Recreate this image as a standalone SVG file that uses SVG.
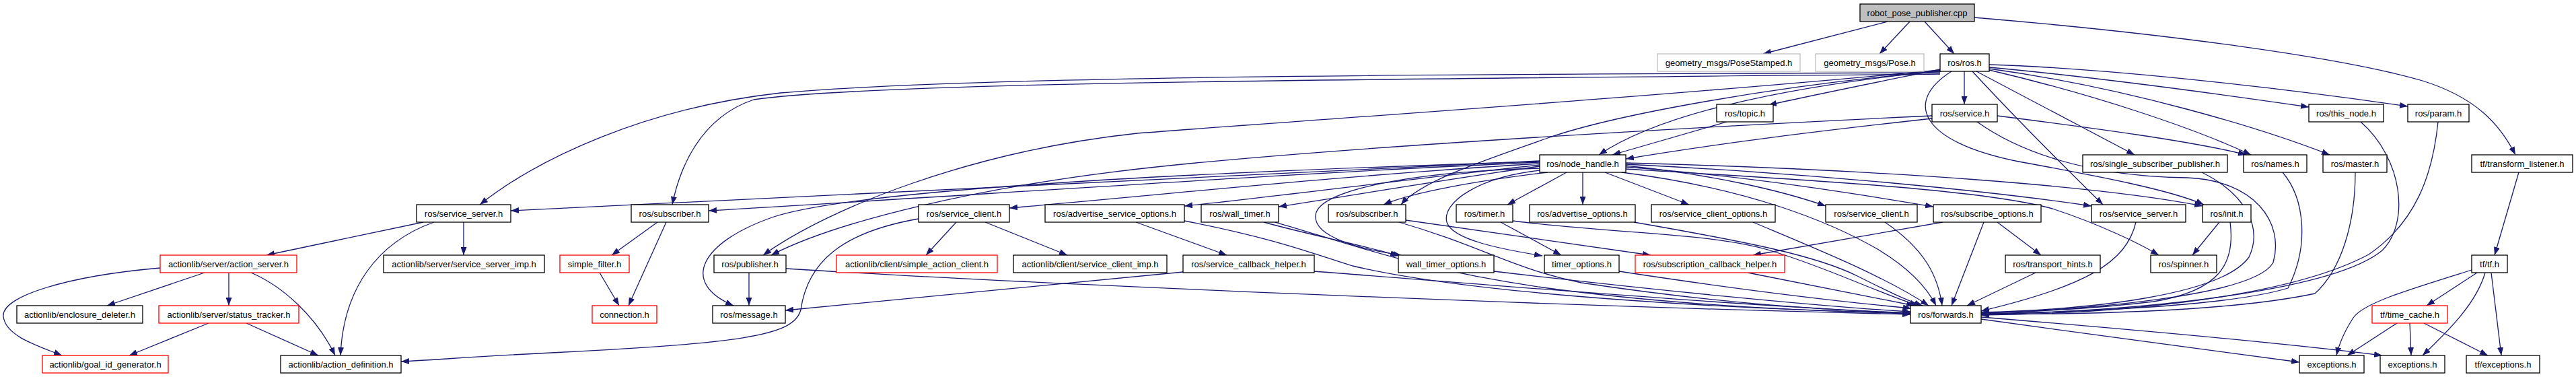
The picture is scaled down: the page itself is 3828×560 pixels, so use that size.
<svg xmlns="http://www.w3.org/2000/svg" width="3828" height="560" viewBox="0 0 3828 560">
<style>
.n rect{fill:#fff;stroke:#000;stroke-width:1.3}
.r rect{stroke:#f00}
.g rect{stroke:#bfbfbf}
.root rect{fill:#bfbfbf}
text{font-family:"Liberation Sans",Arial,sans-serif;font-size:13px;text-anchor:middle;fill:#000}
#edges path{fill:none;stroke:#191970;stroke-width:1.3;marker-end:url(#a)}
</style>
<defs>
<marker id="a" viewBox="0 0 12 9" refX="12" refY="4.5" markerWidth="12" markerHeight="9" markerUnits="userSpaceOnUse" orient="auto"><path d="M0,0 L12,4.5 L0,9 z" fill="#191970"/></marker>
</defs>
<rect width="3828" height="560" fill="#fff"/>
<g id="edges">
<path d="M2805,32 L2620,80"/>
<path d="M2838,32 L2793,80"/>
<path d="M2860,32 L2904,80"/>
<path d="M2934,26 C3220,50 3480,85 3600,120 C3680,145 3715,185 3738,230"/>
<path d="M2883,103 C2790,122 2700,140 2628,156"/>
<path d="M2919,106 L2919,155"/>
<path d="M2883,105 C2690,125 2480,160 2376,230"/>
<path d="M2566,181 L2396,230"/>
<path d="M2871,176 C2700,195 2560,212 2416,236"/>
<path d="M2937,106 L3172,230"/>
<path d="M2956,100 C3120,115 3300,140 3431,159"/>
<path d="M2956,96 C3150,102 3420,135 3578,158"/>
<path d="M2956,104 C3110,140 3260,190 3345,230"/>
<path d="M2956,102 C3160,130 3360,190 3462,230"/>
<path d="M2968,172 C3110,190 3260,210 3338,230"/>
<path d="M2883,108 C2200,110 1450,112 1160,138 C960,160 800,235 713,304"/>
<path d="M2883,110 C2000,118 1300,122 1120,148 C1040,175 1010,250 999,304"/>
<path d="M2883,104 C2450,145 1950,178 1690,198 C1440,225 1230,310 1134,379"/>
<path d="M2871,172 C2450,192 1950,222 1700,250 C1450,278 1240,330 1146,379"/>
<path d="M2288,239 C1900,255 1350,285 759,313"/>
<path d="M2288,241 C1900,258 1450,290 1053,313"/>
<path d="M2288,240 C1800,255 1280,280 1150,322 C1040,360 1010,420 1090,454"/>
<path d="M2884,106 C2650,125 2400,170 2300,205 C2200,240 2110,270 2082,304"/>
<path d="M2300,256 C2200,268 2100,285 2056,304"/>
<path d="M2288,243 C2000,260 1700,292 1500,309"/>
<path d="M2288,245 C2100,265 1900,292 1760,306"/>
<path d="M2288,247 C2150,266 2000,292 1900,307"/>
<path d="M2288,250 C2100,255 1958,282 1955,320 C1952,352 2020,370 2082,379"/>
<path d="M2290,253 C2200,262 2142,300 2150,330 C2158,356 2230,370 2292,380"/>
<path d="M2328,256 L2240,304"/>
<path d="M2352,256 L2352,304"/>
<path d="M2385,256 L2510,304"/>
<path d="M2416,246 C2550,260 2650,284 2713,306"/>
<path d="M2416,248 C2600,262 2760,288 2873,307"/>
<path d="M2416,244 C2700,258 2960,284 3108,306"/>
<path d="M2931,106 C2990,170 3070,250 3125,304"/>
<path d="M2900,106 C2830,150 2850,210 3000,240 C3120,262 3225,282 3275,304"/>
<path d="M2416,242 C2800,252 3120,276 3273,306"/>
<path d="M2416,251 C2700,268 2950,282 3050,310 C3120,333 3180,362 3208,379"/>
<path d="M2410,256 C2600,280 2720,330 2790,370 C2840,400 2865,430 2877,454"/>
<path d="M3298,330 L3258,379"/>
<path d="M3314,330 C3322,390 3300,432 3200,448 C3100,460 3010,463 2944,465"/>
<path d="M3392,256 C3425,295 3432,365 3400,428 C3300,458 3050,464 2944,466"/>
<path d="M3500,256 C3500,330 3480,400 3440,436 C3300,466 3050,467 2944,467"/>
<path d="M3508,181 C3570,235 3582,330 3540,372 C3470,430 3200,462 2944,467"/>
<path d="M3623,181 C3615,260 3590,330 3520,378 C3400,442 3150,466 2944,468"/>
<path d="M3272,256 C3340,290 3362,340 3342,382 C3300,440 3100,460 2944,464"/>
<path d="M2938,181 C3000,225 3100,262 3250,264 C3350,268 3395,330 3378,390 C3350,440 3100,460 2944,465"/>
<path d="M2944,474 C3100,496 3300,522 3417,538"/>
<path d="M2944,471 C3150,488 3400,510 3540,528"/>
<path d="M3673,401 C3580,430 3512,450 3497,472 C3482,495 3475,515 3472,528"/>
<path d="M3681,405 L3606,454"/>
<path d="M3693,405 C3680,450 3640,490 3600,528"/>
<path d="M3702,405 L3717,528"/>
<path d="M3562,480 L3488,528"/>
<path d="M3581,480 L3583,528"/>
<path d="M3602,480 L3697,528"/>
<path d="M3743,256 L3707,379"/>
<path d="M689,330 L689,379"/>
<path d="M629,330 L396,379"/>
<path d="M645,330 C560,360 510,430 506,528"/>
<path d="M977,330 L909,379"/>
<path d="M990,330 L934,454"/>
<path d="M891,405 L920,454"/>
<path d="M1113,405 L1113,454"/>
<path d="M1168,399 C1500,420 2300,455 2839,467"/>
<path d="M1421,330 L1376,379"/>
<path d="M1464,330 L1586,379"/>
<path d="M1365,325 C1250,345 1200,390 1190,460 C1180,500 1100,510 800,525 C700,530 640,535 596,537"/>
<path d="M1688,330 L1823,379"/>
<path d="M1760,328 C1900,355 1960,380 2010,395 C2200,440 2600,460 2839,465"/>
<path d="M1878,330 C1950,350 2030,365 2078,380"/>
<path d="M1895,330 C2000,360 2100,400 2300,428 C2500,455 2700,462 2839,466"/>
<path d="M1758,404 C1500,430 1300,450 1167,461"/>
<path d="M1953,403 C2300,430 2600,455 2839,465"/>
<path d="M2089,327 L2453,379"/>
<path d="M2079,330 C2200,365 2250,400 2350,420 C2550,450 2700,460 2839,465"/>
<path d="M2230,330 L2320,379"/>
<path d="M2248,328 C2400,348 2550,345 2640,375 C2720,400 2780,430 2850,454"/>
<path d="M2428,330 C2600,360 2700,380 2760,410 C2800,430 2830,445 2857,454"/>
<path d="M2220,403 C2450,430 2700,455 2839,463"/>
<path d="M2406,403 C2550,425 2700,445 2840,458"/>
<path d="M2597,405 L2845,454"/>
<path d="M2605,330 C2700,370 2800,410 2866,454"/>
<path d="M2801,330 C2860,370 2880,410 2886,454"/>
<path d="M2948,330 L2900,454"/>
<path d="M2887,330 L2605,379"/>
<path d="M2968,330 L3033,379"/>
<path d="M3025,405 L2923,454"/>
<path d="M3174,330 C3160,390 3100,425 2944,462"/>
<path d="M238,398 C100,410 2,440 5,470 C8,500 60,515 92,528"/>
<path d="M304,405 L159,454"/>
<path d="M340,405 L340,454"/>
<path d="M373,405 C420,425 470,470 498,528"/>
<path d="M310,480 L192,528"/>
<path d="M366,480 L473,528"/>
</g>
<g id="root" class="n root"><rect x="2764" y="6" width="170" height="26"/><text x="2849" y="24">robot_pose_publisher.cpp</text></g>
<g id="posestamped" class="n g"><rect x="2463" y="80" width="212" height="26"/><text x="2569" y="98">geometry_msgs/PoseStamped.h</text></g>
<g id="pose" class="n g"><rect x="2698" y="80" width="161" height="26"/><text x="2778.5" y="98">geometry_msgs/Pose.h</text></g>
<g id="ros_h" class="n"><rect x="2883" y="80" width="73" height="26"/><text x="2919.5" y="98">ros/ros.h</text></g>
<g id="topic" class="n"><rect x="2551" y="155" width="84" height="26"/><text x="2593" y="173">ros/topic.h</text></g>
<g id="service" class="n"><rect x="2871" y="155" width="97" height="26"/><text x="2919.5" y="173">ros/service.h</text></g>
<g id="this_node" class="n"><rect x="3431" y="155" width="111" height="26"/><text x="3486.5" y="173">ros/this_node.h</text></g>
<g id="param" class="n"><rect x="3578" y="155" width="91" height="26"/><text x="3623.5" y="173">ros/param.h</text></g>
<g id="node_handle" class="n"><rect x="2288" y="230" width="128" height="26"/><text x="2352" y="248">ros/node_handle.h</text></g>
<g id="ssp" class="n"><rect x="3095" y="230" width="215" height="26"/><text x="3202.5" y="248">ros/single_subscriber_publisher.h</text></g>
<g id="names" class="n"><rect x="3334" y="230" width="94" height="26"/><text x="3381" y="248">ros/names.h</text></g>
<g id="master" class="n"><rect x="3452" y="230" width="95" height="26"/><text x="3499.5" y="248">ros/master.h</text></g>
<g id="transform_listener" class="n"><rect x="3673" y="230" width="150" height="26"/><text x="3748" y="248">tf/transform_listener.h</text></g>
<g id="service_server1" class="n"><rect x="619" y="304" width="140" height="26"/><text x="689" y="322">ros/service_server.h</text></g>
<g id="subscriber1" class="n"><rect x="938" y="304" width="115" height="26"/><text x="995.5" y="322">ros/subscriber.h</text></g>
<g id="service_client1" class="n"><rect x="1365" y="304" width="135" height="26"/><text x="1432.5" y="322">ros/service_client.h</text></g>
<g id="adv_service_options" class="n"><rect x="1553" y="304" width="207" height="26"/><text x="1656.5" y="322">ros/advertise_service_options.h</text></g>
<g id="wall_timer" class="n"><rect x="1785" y="304" width="115" height="26"/><text x="1842.5" y="322">ros/wall_timer.h</text></g>
<g id="subscriber2" class="n"><rect x="1974" y="304" width="115" height="26"/><text x="2031.5" y="322">ros/subscriber.h</text></g>
<g id="timer" class="n"><rect x="2164" y="304" width="84" height="26"/><text x="2206" y="322">ros/timer.h</text></g>
<g id="advertise_options" class="n"><rect x="2273" y="304" width="157" height="26"/><text x="2351.5" y="322">ros/advertise_options.h</text></g>
<g id="service_client_options" class="n"><rect x="2454" y="304" width="184" height="26"/><text x="2546" y="322">ros/service_client_options.h</text></g>
<g id="service_client2" class="n"><rect x="2713" y="304" width="136" height="26"/><text x="2781" y="322">ros/service_client.h</text></g>
<g id="subscribe_options" class="n"><rect x="2873" y="304" width="160" height="26"/><text x="2953" y="322">ros/subscribe_options.h</text></g>
<g id="service_server2" class="n"><rect x="3108" y="304" width="140" height="26"/><text x="3178" y="322">ros/service_server.h</text></g>
<g id="init" class="n"><rect x="3273" y="304" width="72" height="26"/><text x="3309" y="322">ros/init.h</text></g>
<g id="action_server" class="n r"><rect x="238" y="379" width="203" height="26"/><text x="339.5" y="397">actionlib/server/action_server.h</text></g>
<g id="service_server_imp" class="n"><rect x="570" y="379" width="239" height="26"/><text x="689.5" y="397">actionlib/server/service_server_imp.h</text></g>
<g id="simple_filter" class="n r"><rect x="832" y="379" width="103" height="26"/><text x="883.5" y="397">simple_filter.h</text></g>
<g id="publisher" class="n"><rect x="1061" y="379" width="107" height="26"/><text x="1114.5" y="397">ros/publisher.h</text></g>
<g id="simple_action_client" class="n r"><rect x="1243" y="379" width="239" height="26"/><text x="1362.5" y="397">actionlib/client/simple_action_client.h</text></g>
<g id="service_client_imp" class="n"><rect x="1506" y="379" width="228" height="26"/><text x="1620" y="397">actionlib/client/service_client_imp.h</text></g>
<g id="service_callback_helper" class="n"><rect x="1758" y="379" width="195" height="26"/><text x="1855.5" y="397">ros/service_callback_helper.h</text></g>
<g id="wall_timer_options" class="n"><rect x="2078" y="379" width="142" height="26"/><text x="2149" y="397">wall_timer_options.h</text></g>
<g id="timer_options" class="n"><rect x="2295" y="379" width="111" height="26"/><text x="2350.5" y="397">timer_options.h</text></g>
<g id="subscription_callback_helper" class="n r"><rect x="2430" y="379" width="222" height="26"/><text x="2541" y="397">ros/subscription_callback_helper.h</text></g>
<g id="transport_hints" class="n"><rect x="2980" y="379" width="141" height="26"/><text x="3050.5" y="397">ros/transport_hints.h</text></g>
<g id="spinner" class="n"><rect x="3196" y="379" width="98" height="26"/><text x="3245" y="397">ros/spinner.h</text></g>
<g id="tf_h" class="n"><rect x="3673" y="379" width="53" height="26"/><text x="3699.5" y="397">tf/tf.h</text></g>
<g id="enclosure_deleter" class="n"><rect x="25" y="454" width="187" height="26"/><text x="118.5" y="472">actionlib/enclosure_deleter.h</text></g>
<g id="status_tracker" class="n r"><rect x="236" y="454" width="208" height="26"/><text x="340" y="472">actionlib/server/status_tracker.h</text></g>
<g id="connection" class="n r"><rect x="880" y="454" width="96" height="26"/><text x="928" y="472">connection.h</text></g>
<g id="message" class="n"><rect x="1059" y="454" width="108" height="26"/><text x="1113" y="472">ros/message.h</text></g>
<g id="forwards" class="n"><rect x="2839" y="454" width="105" height="26"/><text x="2891.5" y="472">ros/forwards.h</text></g>
<g id="time_cache" class="n r"><rect x="3525" y="454" width="112" height="26"/><text x="3581" y="472">tf/time_cache.h</text></g>
<g id="goal_id_generator" class="n r"><rect x="63" y="528" width="187" height="26"/><text x="156.5" y="546">actionlib/goal_id_generator.h</text></g>
<g id="action_definition" class="n"><rect x="417" y="528" width="179" height="26"/><text x="506.5" y="546">actionlib/action_definition.h</text></g>
<g id="exceptions1" class="n"><rect x="3417" y="528" width="96" height="26"/><text x="3465" y="546">exceptions.h</text></g>
<g id="exceptions2" class="n"><rect x="3537" y="528" width="96" height="26"/><text x="3585" y="546">exceptions.h</text></g>
<g id="tf_exceptions" class="n"><rect x="3665" y="528" width="109" height="26"/><text x="3719.5" y="546">tf/exceptions.h</text></g>
</svg>
